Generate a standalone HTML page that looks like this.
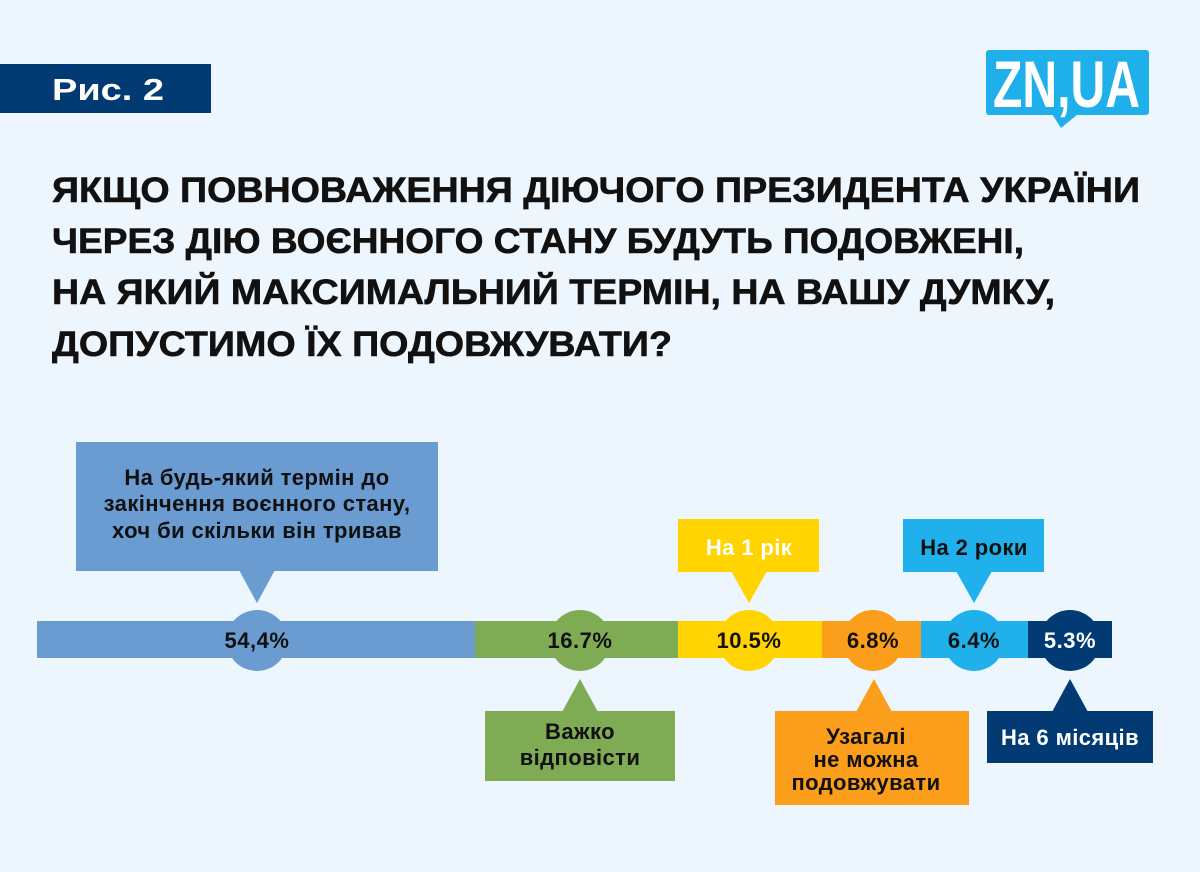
<!DOCTYPE html>
<html><head><meta charset="utf-8">
<style>html,body{margin:0;padding:0;background:#eef6fd;}svg{display:block}</style>
</head><body>
<svg width="1200" height="872" viewBox="0 0 1200 872" xmlns="http://www.w3.org/2000/svg" font-family="Liberation Sans, DejaVu Sans, sans-serif">
<rect width="1200" height="872" fill="#eef6fd"/>
<rect x="0" y="64" width="211" height="49" fill="#023b73"/>
<text x="108" y="100" fill="#fff" font-size="31" font-weight="bold" text-anchor="middle" textLength="112" lengthAdjust="spacingAndGlyphs">Рис. 2</text>
<rect x="986" y="50" width="163" height="65" rx="3" fill="#1fb0ec"/>
<polygon points="1052,114 1078,114 1061,128" fill="#1fb0ec"/>
<text x="993" y="107" fill="#fff" font-size="66" font-weight="bold" textLength="147" lengthAdjust="spacingAndGlyphs">ZN,UA</text>
<g font-size="35" font-weight="bold" fill="#111" stroke="#111" stroke-width="0.6">
<text x="52" y="202" textLength="1088" lengthAdjust="spacingAndGlyphs">ЯКЩО ПОВНОВАЖЕННЯ ДІЮЧОГО ПРЕЗИДЕНТА УКРАЇНИ</text>
<text x="52" y="253" textLength="972" lengthAdjust="spacingAndGlyphs">ЧЕРЕЗ ДІЮ ВОЄННОГО СТАНУ БУДУТЬ ПОДОВЖЕНІ,</text>
<text x="52" y="304" textLength="1003" lengthAdjust="spacingAndGlyphs">НА ЯКИЙ МАКСИМАЛЬНИЙ ТЕРМІН, НА ВАШУ ДУМКУ,</text>
<text x="52" y="356" textLength="620" lengthAdjust="spacingAndGlyphs">ДОПУСТИМО ЇХ ПОДОВЖУВАТИ?</text>
</g>
<rect x="37" y="621" width="438" height="37" fill="#6a9bd1"/>
<rect x="475" y="621" width="203" height="37" fill="#7fab55"/>
<rect x="678" y="621" width="144" height="37" fill="#ffd400"/>
<rect x="822" y="621" width="99" height="37" fill="#fb9e1b"/>
<rect x="921" y="621" width="107" height="37" fill="#20b0ec"/>
<rect x="1028" y="621" width="84" height="37" fill="#023b73"/>
<circle cx="257" cy="640.5" r="30.5" fill="#6a9bd1"/>
<circle cx="580" cy="640.5" r="30.5" fill="#7fab55"/>
<circle cx="749" cy="640.5" r="30.5" fill="#ffd400"/>
<circle cx="873" cy="640.5" r="30.5" fill="#fb9e1b"/>
<circle cx="974" cy="640.5" r="30.5" fill="#20b0ec"/>
<circle cx="1070" cy="640.5" r="30.5" fill="#023b73"/>
<g font-size="22" font-weight="bold" text-anchor="middle" fill="#111" letter-spacing="0.5">
<text x="257" y="648">54,4%</text>
<text x="580" y="648">16.7%</text>
<text x="749" y="648">10.5%</text>
<text x="873" y="648">6.8%</text>
<text x="974" y="648">6.4%</text>
<text x="1070" y="648" fill="#fff">5.3%</text>
</g>
<rect x="76" y="442" width="362" height="129" fill="#6a9bd1"/>
<polygon points="239,570 275,570 257,603" fill="#6a9bd1"/>
<rect x="678" y="519" width="141" height="53" fill="#ffd400"/>
<polygon points="731,571 767,571 749,603" fill="#ffd400"/>
<rect x="903" y="519" width="141" height="53" fill="#20b0ec"/>
<polygon points="956,571 992,571 974,603" fill="#20b0ec"/>
<rect x="485" y="711" width="190" height="70" fill="#7fab55"/>
<polygon points="562,712 598,712 580,679" fill="#7fab55"/>
<rect x="775" y="711" width="194" height="94" fill="#fb9e1b"/>
<polygon points="856,712 892,712 874,679" fill="#fb9e1b"/>
<rect x="987" y="711" width="166" height="52" fill="#023b73"/>
<polygon points="1052,712 1088,712 1070,679" fill="#023b73"/>
<g font-size="22" font-weight="bold" text-anchor="middle" fill="#111" letter-spacing="0.4">
<text x="257" y="485">На будь-який термін до</text>
<text x="257" y="511">закінчення воєнного стану,</text>
<text x="257" y="538">хоч би скільки він тривав</text>
<text x="749" y="555" fill="#fff">На 1 рік</text>
<text x="974" y="555">На 2 роки</text>
<text x="580" y="739">Важко</text>
<text x="580" y="765">відповісти</text>
<text x="866" y="744">Узагалі</text>
<text x="866" y="767">не можна</text>
<text x="866" y="790">подовжувати</text>
<text x="1070" y="745" fill="#fff">На 6 місяців</text>
</g>
</svg>
</body></html>
